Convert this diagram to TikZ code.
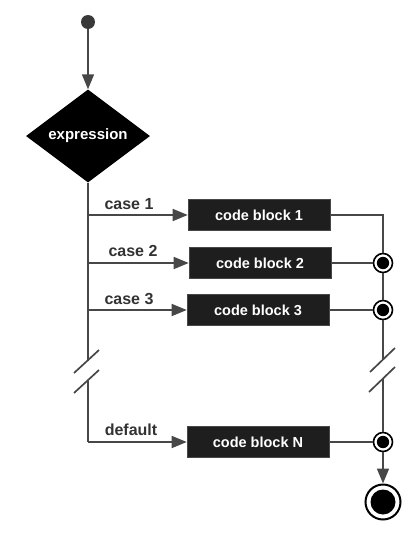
\documentclass[tikz,border=0pt]{standalone}
\usepackage{fontspec}
\setmainfont{Liberation Sans}
\usetikzlibrary{shapes.geometric,arrows.meta}
\definecolor{ln}{HTML}{474747}
\definecolor{bx}{HTML}{1E1E1E}
\tikzset{
  conn/.style={draw=ln, line width=1.7pt},
  arr/.style={conn, -{Triangle[length=15pt,width=12pt]}},
  codebox/.style={rectangle, fill=bx, draw=ln, line width=0.6pt, minimum width=142pt, minimum height=31pt, inner sep=0pt, text=white, font=\bfseries\fontsize{14.5}{16}\selectfont},
  lbl/.style={text=ln!70!black, font=\bfseries\fontsize{16}{18}\selectfont, inner sep=0pt},
  junc/.style={circle, draw=black, line width=1.6pt, fill=white, minimum size=19pt, inner sep=0pt},
  slash/.style={draw=ln, line width=1.7pt},
}
\begin{document}
\begin{tikzpicture}[x=1pt,y=-1pt]
\useasboundingbox (0,0) rectangle (419,536);
% start
\node[circle, fill=ln!80!black, minimum size=14pt, inner sep=0pt] (start) at (88,22) {};
% decision
\node[diamond, fill=black, aspect=1.34, minimum width=124pt, minimum height=93pt, inner sep=0pt,
      text=white, font=\bfseries\fontsize{15}{17}\selectfont] (expr) at (88,136) {expression};
\draw[arr] (start) -- (expr.north);
% code blocks
\node[codebox] (b1) at (259,215) {code block 1};
\node[codebox] (b2) at (260,263) {code block 2};
\node[codebox] (b3) at (258,310) {code block 3};
\node[codebox] (bN) at (258,442) {code block N};
% junctions
\node[junc] (j2) at (383,263) {};
\fill[black] (j2) circle (6.2pt);
\node[junc] (j3) at (383,310) {};
\fill[black] (j3) circle (6.2pt);
\node[junc] (jN) at (383,442) {};
\fill[black] (jN) circle (6.2pt);
% end
\node[circle, draw=black, line width=2pt, fill=white, minimum size=35pt, inner sep=0pt] (end) at (383,502) {};
\fill[black] (end) circle (12.5pt);
% left trunk
\coordinate (L1) at (88,361);
\coordinate (L2) at (88,381);
\coordinate (LN) at (88,442);
\draw[conn] (expr.south) -- (L1);
\draw[conn] (L2) -- (LN);
\draw[slash] (74,373) -- (99,350);
\draw[slash] (74,393) -- (99,370);
% branches
\draw[arr] (expr.south |- b1.west) -- (b1.west);
\draw[arr] (expr.south |- b2.west) -- (b2.west);
\draw[arr] (expr.south |- b3.west) -- (b3.west);
\draw[arr] (LN) -- (bN.west);
% labels
\node[lbl] (l1) at (129,204) {case 1};
\node[lbl] (l2) at (133,251) {case 2};
\node[lbl] (l3) at (129,299) {case 3};
\node[lbl] (lN) at (131,430) {default};
% right trunk
\coordinate (R1) at (383,360);
\coordinate (R2) at (383,378);
\draw[conn] (b1.east) -| (j2.north);
\draw[conn] (j2.south) -- (j3.north);
\draw[conn] (j3.south) -- (R1);
\draw[conn] (R2) -- (jN.north);
\draw[slash] (370,372) -- (395,348);
\draw[slash] (369,392) -- (395,367);
\draw[conn] (b2.east) -- (j2.west);
\draw[conn] (b3.east) -- (j3.west);
\draw[conn] (bN.east) -- (jN.west);
\draw[arr] (jN.south) -- (end.north);
\end{tikzpicture}
\end{document}
